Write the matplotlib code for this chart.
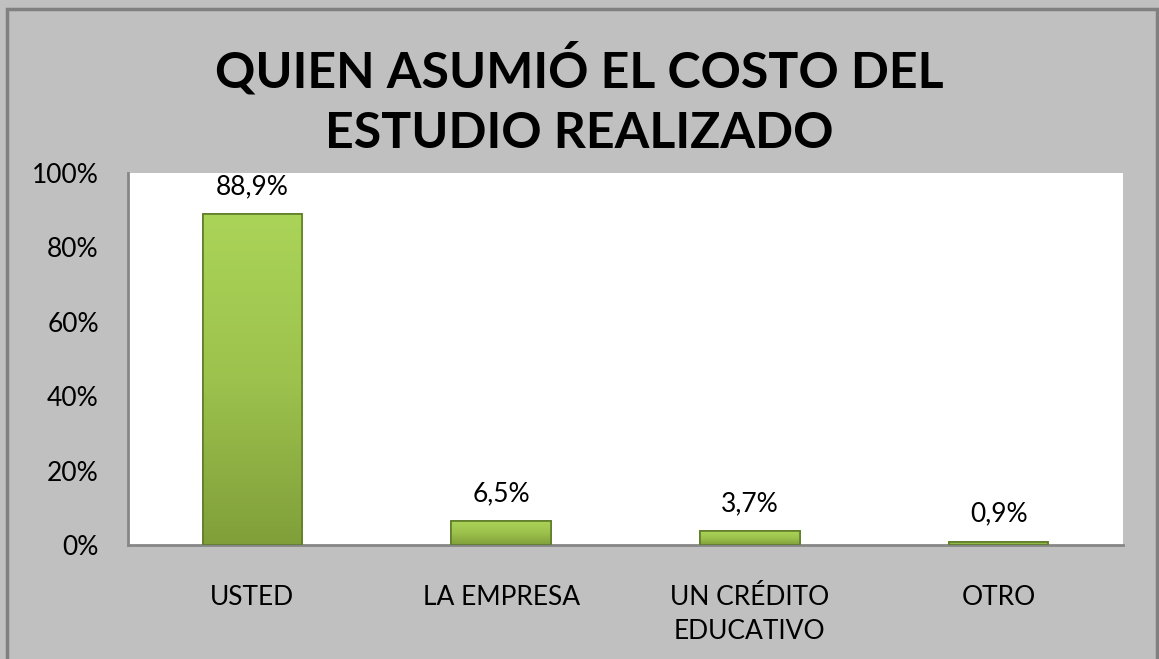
import numpy as np
import matplotlib.pyplot as plt
from matplotlib.colors import LinearSegmentedColormap
from matplotlib.patches import Rectangle

categorias = ['USTED', 'LA EMPRESA', 'UN CRÉDITO\nEDUCATIVO', 'OTRO']
valores = [88.9, 6.5, 3.7, 0.9]
etiquetas = ['88,9%', '6,5%', '3,7%', '0,9%']
yticks = [0, 20, 40, 60, 80, 100]
titulo = ['QUIEN ASUMIÓ EL COSTO DEL', 'ESTUDIO REALIZADO']

plt.rcParams['font.family'] = ['Lato', 'DejaVu Sans']

fig = plt.figure(figsize=(11.59, 6.59), dpi=100)
fig.patch.set_facecolor('#C0C0C0')
# borde del gráfico
fig.patches.append(Rectangle((7 / 1159, -0.01), 1150 / 1159, 1.0 - 9 / 659 + 0.01,
                             transform=fig.transFigure, fill=False,
                             edgecolor='#808080', linewidth=2.5))

ax = fig.add_axes([128 / 1159, 114 / 659, 995 / 1159, 372 / 659])
ax.set_facecolor('white')

x = np.arange(len(categorias))
ancho = 0.40
barras = ax.bar(x, valores, width=ancho, color='#9BC24E', edgecolor='#5F7D2A', linewidth=1.2, zorder=2)

# degradado en cada barra
cmap = LinearSegmentedColormap.from_list('verde', ['#809F3A', '#9DC24D', '#AAD458'])
grad = np.linspace(0, 1, 256).reshape(-1, 1)
for b in barras:
    x0, w, h = b.get_x(), b.get_width(), b.get_height()
    im = ax.imshow(grad, extent=(x0, x0 + w, 0, h), origin='lower', cmap=cmap,
                   aspect='auto', zorder=2.5)
    im.set_clip_path(b)
    ax.add_patch(Rectangle((x0, 0), w, h, fill=False, edgecolor='#5F7D2A',
                           linewidth=1.2, zorder=3))

for xi, v, t in zip(x, valores, etiquetas):
    ax.text(xi, v + 4.0, t, ha='center', va='bottom', fontsize=19, color='black')

ax.set_xlim(-0.5, len(categorias) - 0.5)
ax.set_ylim(0, 100)
ax.set_yticks(yticks)
ax.set_yticklabels([f'{v}%' for v in yticks])
ax.set_xticks(x)
ax.set_xticklabels(categorias, linespacing=1.45)
ax.tick_params(axis='y', length=0, pad=21, labelsize=19)
ax.tick_params(axis='x', length=0, pad=29, labelsize=19)

for s in ['top', 'right']:
    ax.spines[s].set_visible(False)
for s in ['left', 'bottom']:
    ax.spines[s].set_color('#868686')
    ax.spines[s].set_linewidth(2)

fig.text(0.5, 1 - 87 / 659, titulo[0], ha='center', va='baseline', fontsize=36,
         fontweight='bold')
fig.text(0.5, 1 - 148 / 659, titulo[1], ha='center', va='baseline', fontsize=36,
         fontweight='bold')

fig.savefig('out.png', dpi=100, facecolor=fig.get_facecolor())
